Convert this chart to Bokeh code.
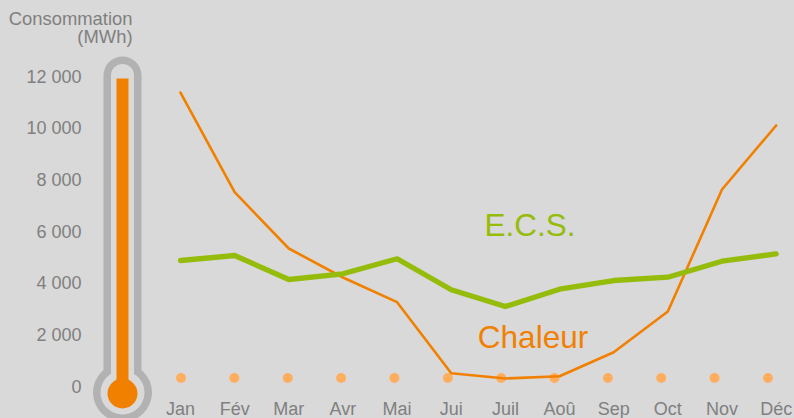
from bokeh.plotting import figure
from bokeh.embed import file_html
from bokeh.resources import INLINE
from bokeh.models import Range1d, LinearAxis, FixedTicker
from bokeh.core.properties import value

months = ["Jan","Fév","Mar","Avr","Mai","Jui","Juil","Aoû","Sep","Oct","Nov","Déc"]
month_pos = list(range(1, 13))
chaleur = [11456, 7585, 5398, 4272, 3313, 555, 350, 439, 1371, 2951, 7689, 10175]
ecs = [4932, 5126, 4194, 4416, 4998, 3794, 3146, 3817, 4155, 4283, 4905, 5192]
level_months = list(range(1, 13))
level = [370] * 12
thermo_level = 12000
y_ticks = [0, 2000, 4000, 6000, 8000, 10000, 12000]

GREY = "#808080"
BG = "#d9d9d9"
ORANGE = "#f28000"
GREEN = "#95bc0b"
TUBE = "#b2b2b2"
DOT = "#ffae5f"
FONT = "Liberation Sans"

FW, FH = 794, 418
px_per_month = 54.15
x0_px = 180.0
y0_px, px_per_unit = 387.0, 25.75 / 1000

xs = 1 + (0 - x0_px) / px_per_month
xe = 1 + (FW - x0_px) / px_per_month
ys = (y0_px - FH) / px_per_unit
ye = y0_px / px_per_unit

p = figure(width=FW, height=FH, output_backend="svg", toolbar_location=None,
           x_range=Range1d(xs, xe), y_range=Range1d(ys, ye),
           min_border_left=0, min_border_right=0, min_border_top=0, min_border_bottom=0,
           background_fill_color=BG, border_fill_color=BG, outline_line_color=None,
           x_axis_type=None, y_axis_type=None)
p.styles = {"background-color": BG}
p.grid.visible = False

dot_step = 53.36
p.extra_x_ranges["dots"] = Range1d(1 + (0 - 180.5) / dot_step, 1 + (FW - 180.5) / dot_step)
p.extra_x_ranges["th"] = Range1d(-122, FW - 122)
p.extra_y_ranges["px"] = Range1d(FH, 0)
# tick-label scale of the left axis
ax0_px, ax_scale = 386.0, 310.0 / 12000
p.extra_y_ranges["ticks"] = Range1d((ax0_px - FH) / ax_scale, ax0_px / ax_scale)

xax = LinearAxis(ticker=FixedTicker(ticks=month_pos), fixed_location=(y0_px - 388) / px_per_unit,
                 major_label_overrides={m: t for m, t in zip(month_pos, months)})
yax = LinearAxis(ticker=FixedTicker(ticks=y_ticks), fixed_location=1 + (92 - x0_px) / px_per_month,
                 y_range_name="ticks",
                 major_label_overrides={t: f"{t:,}".replace(",", " ") for t in y_ticks})
for ax in (xax, yax):
    ax.axis_line_color = None
    ax.major_tick_line_color = None
    ax.minor_tick_line_color = None
    ax.major_tick_out = 0
    ax.major_tick_in = 0
    ax.minor_tick_out = 0
    ax.major_label_text_color = GREY
    ax.major_label_text_font = FONT
    ax.major_label_text_font_size = "18px"
xax.major_label_standoff = 10
yax.major_label_standoff = 11
p.add_layout(xax, "below")
p.add_layout(yax, "left")

th = dict(x_range_name="th", y_range_name="px")
p.line([0, 0], [75, 392], line_color=TUBE, line_width=38, line_cap="round", **th)
p.circle([0], [392], radius=29.5, fill_color=TUBE, line_color=None, **th)
p.line([0, 0], [75, 392], line_color=BG, line_width=23, line_cap="round", **th)
p.circle([0], [392], radius=22, fill_color=BG, line_color=None, **th)
p.vbar(x=[0], width=12, bottom=[0], top=[thermo_level], fill_color=ORANGE, line_color=None,
       x_range_name="th")
p.circle([0], [393], radius=15, fill_color=ORANGE, line_color=None, **th)

p.scatter(level_months, level, x_range_name="dots", size=10, marker="circle",
          fill_color=DOT, line_color=None)
p.line(month_pos, chaleur, line_color=ORANGE, line_width=2.6, line_join="round", line_cap="round")
p.line(month_pos, ecs, line_color=GREEN, line_width=5.3, line_join="round", line_cap="round")

p.text([(529.5 - x0_px) / px_per_month + 1], [6330], text=["E.C.S."], text_color=GREEN, text_font=value(FONT),
       text_font_size="31.5px", text_align="center", text_baseline="middle")
p.text([(532.5 - x0_px) / px_per_month + 1], [1980], text=["Chaleur"], text_color=ORANGE,
       text_font=value(FONT), text_font_size="31.5px", text_align="center", text_baseline="middle")
p.text([132 - 122] * 2, [18, 36], text=["Consommation", "(MWh)"], text_color=GREY,
       text_font=value(FONT), text_font_size="18.4px", text_align="right", text_baseline="alphabetic", **th)

open("out.html", "w").write(file_html(p, INLINE))
